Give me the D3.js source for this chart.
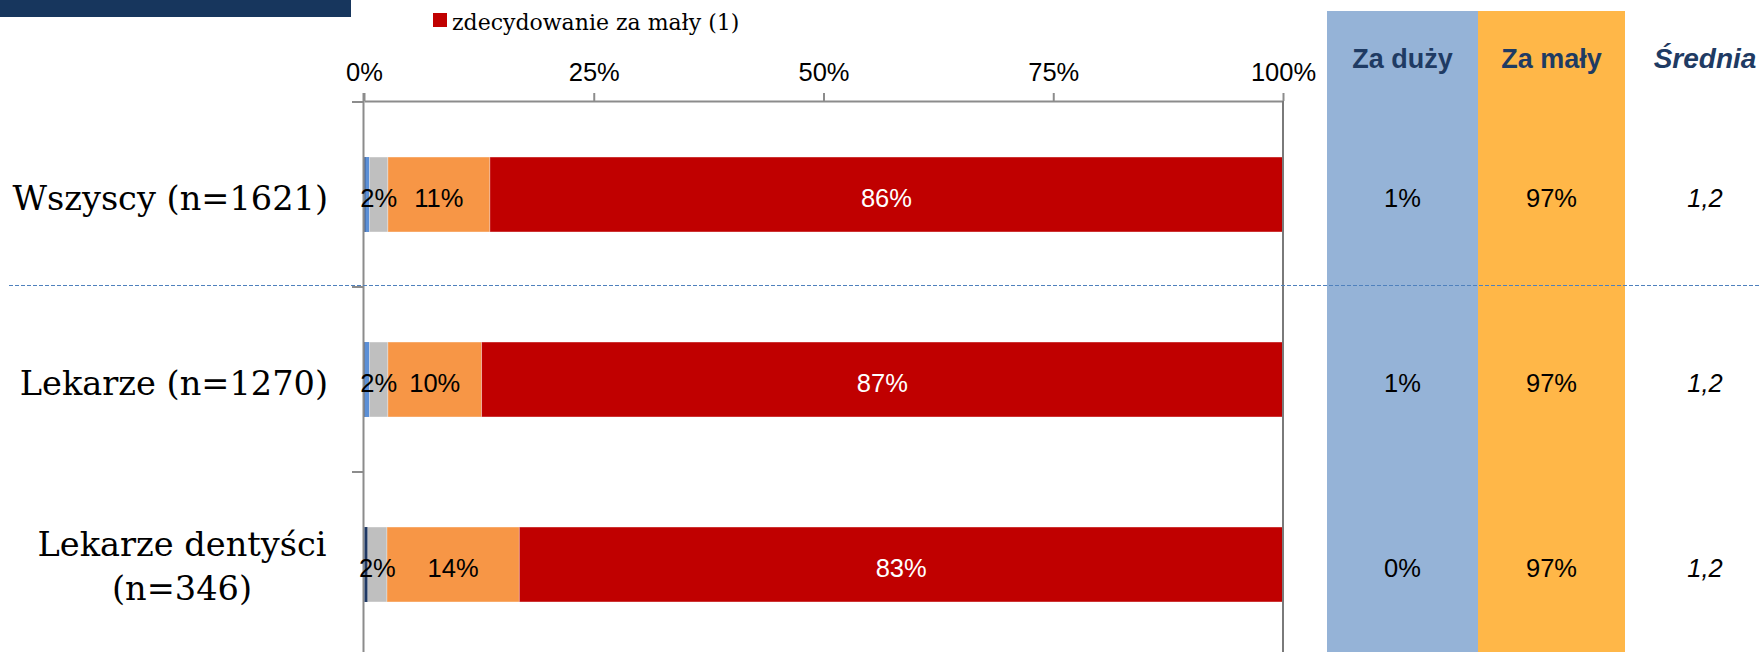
<!DOCTYPE html>
<html>
<head>
<meta charset="utf-8">
<script src="https://cdn.jsdelivr.net/npm/d3@7"></script>
<style>
  html, body { margin: 0; padding: 0; background: #fff; }
  svg { display: block; }
</style>
</head>
<body>
<svg id="chart" width="1760" height="652"></svg>
<script>
// ---- data ----
const categories = ["Wszyscy (n=1621)", "Lekarze (n=1270)", "Lekarze dentyści (n=346)"];
const categoryLines = [["Wszyscy (n=1621)"], ["Lekarze (n=1270)"], ["Lekarze dentyści", "(n=346)"]];
const seriesNames = ["zdecydowanie za duży (5)", "raczej za duży (4)", "ani za duży, ani za mały (3)", "raczej za mały (2)", "zdecydowanie za mały (1)"];
const seriesColors = ["#1f3864", "#5b8fd6", "#bfbfbf", "#f79646", "#c00000"];
const zdecydowanieZaDuzy = [0.15, 0.1, 0.4];
const raczejZaDuzy = [0.45, 0.5, 0.0];
const aniAni = [2.0, 2.0, 2.1];
const raczejZaMaly = [11.1, 10.2, 14.4];
const zdecydowanieZaMaly = [86.3, 87.2, 83.1];
const labelledSeries = [2, 3, 4];
const tickValues = [0, 25, 50, 75, 100];
const sideHeaders = ["Za duży", "Za mały", "Średnia"];
const zaDuzy = ["1%", "1%", "0%"];
const zaMaly = ["97%", "97%", "97%"];
const srednia = ["1,2", "1,2", "1,2"];
const legendShown = [4];

const series = [zdecydowanieZaDuzy, raczejZaDuzy, aniAni, raczejZaMaly, zdecydowanieZaMaly];

// ---- layout ----
const svg = d3.select("#chart");
const SANS = "'Liberation Sans', Arial, sans-serif";
const SERIF = "'DejaVu Serif', Cambria, serif";

const x = d3.scaleLinear().domain([0, 100]).range([364, 1283]);
const y = d3.scaleBand().domain(categories).range([102, 657]).paddingInner(0.595).paddingOuter(0.2975);

// side columns background
const colX = d3.scaleOrdinal().domain(sideHeaders).range([1402.5, 1551.5, 1705]);
svg.append("rect").attr("x", 1327).attr("y", 11).attr("width", 151).attr("height", 652 - 11).attr("fill", "#95b3d7");
svg.append("rect").attr("x", 1478).attr("y", 11).attr("width", 147).attr("height", 652 - 11).attr("fill", "#ffb748");

// header bar
svg.append("rect").attr("x", 0).attr("y", 0).attr("width", 351).attr("height", 17).attr("fill", "#17365d");

// legend
legendShown.forEach((si) => {
  svg.append("rect").attr("x", 433).attr("y", 13).attr("width", 14).attr("height", 14).attr("fill", seriesColors[si]);
  svg.append("text").attr("x", 452).attr("y", 30).attr("font-family", SERIF).attr("font-size", 22)
    .attr("fill", "#000").text(seriesNames[si]);
});

// y axis (left) with ticks at band boundaries (drawn under the bars)
const step = y.step();
const boundaries = categories.map(c => y(c) - step * y.paddingInner() / 2);
const yg = svg.append("g");
yg.append("line").attr("x1", x(0) - 0.5).attr("x2", x(0) - 0.5).attr("y1", 93).attr("y2", 652)
  .attr("stroke", "#8c8c8c").attr("stroke-width", 2);
yg.selectAll(null).data(boundaries).enter().append("line")
  .attr("x1", x(0) - 12).attr("x2", x(0)).attr("y1", d => d).attr("y2", d => d)
  .attr("stroke", "#8c8c8c").attr("stroke-width", 2);

// stacked data
const rows = categories.map((c, i) => {
  let acc = 0;
  return series.map((s, si) => {
    const v = s[i];
    const seg = { cat: c, si, x0: acc, x1: acc + v, v };
    acc += v;
    return seg;
  });
});

// bars
const g = svg.append("g");
rows.forEach((segs) => {
  g.selectAll(null).data(segs.filter(d => d.v > 0)).enter().append("rect")
    .attr("x", d => x(d.x0) + (d.si === 0 ? 0.5 : 0))
    .attr("y", d => y(d.cat))
    .attr("width", d => x(d.x1) - x(d.x0))
    .attr("height", y.bandwidth())
    .attr("fill", d => seriesColors[d.si])
    .attr("stroke", d => d.v < 1 ? "none" : "#fff").attr("stroke-opacity", 0.4).attr("stroke-width", 0.8);
});

// bar labels
rows.forEach((segs) => {
  g.selectAll(null).data(segs.filter(d => labelledSeries.includes(d.si))).enter().append("text")
    .attr("x", d => x((d.x0 + d.x1) / 2))
    .attr("y", d => y(d.cat) + y.bandwidth() / 2 + 12)
    .attr("text-anchor", "middle")
    .attr("font-family", SANS).attr("font-size", 25.5)
    .attr("fill", d => d.si === 4 ? "#fff" : "#000")
    .text(d => Math.round(d.v) + "%");
});

// x axis (top)
const xAxis = d3.axisTop(x).tickValues(tickValues).tickSize(8).tickSizeOuter(0).tickPadding(12)
  .tickFormat(d => d + "%");
const xg = svg.append("g").attr("transform", "translate(0,101)").call(xAxis);
xg.select(".domain").attr("stroke", "#8c8c8c").attr("stroke-width", 2);
xg.selectAll(".tick line").attr("stroke", "#8c8c8c").attr("stroke-width", 2);
xg.selectAll(".tick text").attr("font-family", SANS).attr("font-size", 25.5).attr("fill", "#000");

// right border
svg.append("line").attr("x1", x(100)).attr("x2", x(100)).attr("y1", 101).attr("y2", 652)
  .attr("stroke", "#7a7a7a").attr("stroke-width", 2);

// category labels
categoryLines.forEach((lines, i) => {
  const cy = y(categories[i]) + y.bandwidth() / 2;
  const lh = 44;
  const t = svg.append("text").attr("font-family", SERIF).attr("font-size", 33.6).attr("fill", "#000")
    .attr("text-anchor", lines.length > 1 ? "middle" : "end");
  lines.forEach((ln, k) => {
    t.append("tspan")
      .attr("x", lines.length > 1 ? 182 : 328)
      .attr("y", cy + (lines.length > 1 ? 13 : 15) + (k - (lines.length - 1) / 2) * lh)
      .text(ln);
  });
});

// dashed separator
svg.append("line").attr("x1", 9).attr("x2", 1760).attr("y1", 285.5).attr("y2", 285.5)
  .attr("stroke", "#4f81bd").attr("stroke-width", 1).attr("stroke-dasharray", "4,2");

// side headers
svg.selectAll(null).data(sideHeaders).enter().append("text")
  .attr("x", d => colX(d)).attr("y", 68).attr("text-anchor", "middle")
  .attr("font-family", SANS).attr("font-size", (d, i) => i === 2 ? 28 : 27).attr("font-weight", "bold")
  .attr("font-style", (d, i) => i === 2 ? "italic" : "normal")
  .attr("fill", "#1f3b63").text(d => d);

// side values
const sideCols = [zaDuzy, zaMaly, srednia];
sideCols.forEach((vals, ci) => {
  svg.selectAll(null).data(vals).enter().append("text")
    .attr("x", colX(sideHeaders[ci]))
    .attr("y", (d, i) => y(categories[i]) + y.bandwidth() / 2 + 12)
    .attr("text-anchor", "middle")
    .attr("font-family", SANS).attr("font-size", 25.5)
    .attr("font-style", ci === 2 ? "italic" : "normal")
    .attr("fill", "#000").text(d => d);
});
</script>
</body>
</html>
